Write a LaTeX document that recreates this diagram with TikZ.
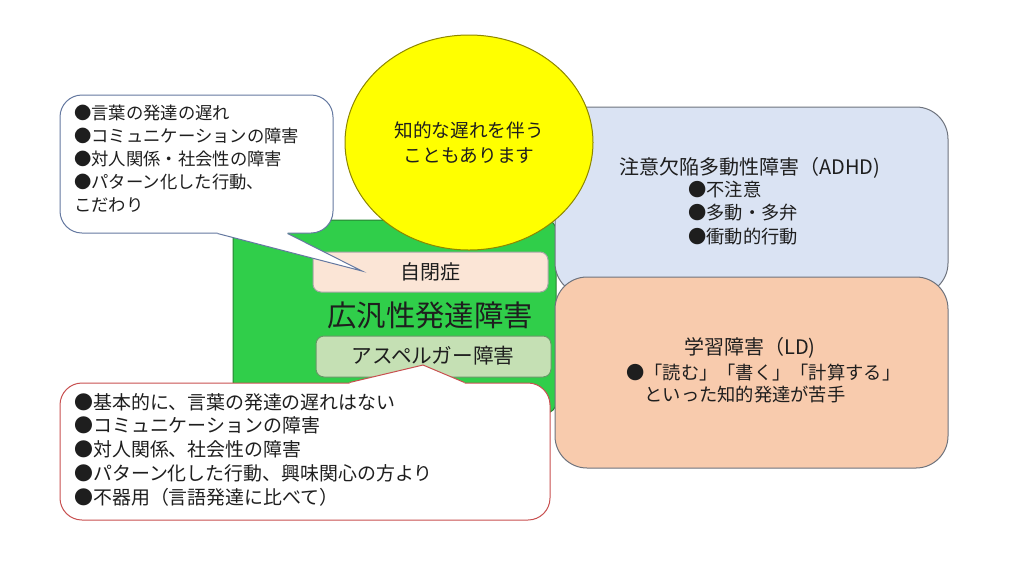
\documentclass[tikz,border=0pt]{standalone}
\usepackage{fontspec}
\setmainfont{Noto Sans CJK JP}
\usepackage{xcolor}
\usetikzlibrary{shapes.geometric, calc}
\definecolor{pddgreen}{RGB}{48,206,74}
\definecolor{pddedge}{RGB}{40,130,50}
\definecolor{adhdblue}{RGB}{218,227,243}
\definecolor{ldorange}{RGB}{248,203,173}
\definecolor{autpink}{RGB}{251,229,214}
\definecolor{aspgreen}{RGB}{197,224,180}
\definecolor{boxedge}{RGB}{110,115,125}
\definecolor{calloutblue}{RGB}{100,120,160}
\definecolor{calloutred}{RGB}{200,80,80}
\definecolor{txt}{RGB}{30,30,30}
\definecolor{iqyellow}{RGB}{255,255,0}
\tikzstyle{bigbox} = [draw=boxedge, line width=0.75pt, rounded corners=24pt, inner sep=0pt]
\tikzstyle{smallbox} = [line width=0.75pt, rounded corners=6pt, inner sep=0pt]
\tikzstyle{callout} = [fill=white, line width=0.75pt, rounded corners=16.5pt, inner sep=0pt]
\tikzstyle{label} = [text=txt, inner sep=0pt]

\begin{document}
\begin{tikzpicture}[x=0.75pt, y=-0.75pt]
    \useasboundingbox (0,0) rectangle (1024,576);

    % main boxes
    \node (pdd) [draw=pddedge, fill=pddgreen, line width=0.75pt, rounded corners=7.5pt, inner sep=0pt,
        minimum width=242.25pt, minimum height=144.75pt] at (394.5,316.5) {};
    \node (adhd) [bigbox, fill=adhdblue, minimum width=294.75pt, minimum height=141pt] at (751.5,201) {};
    \node (ld) [bigbox, fill=ldorange, minimum width=294.75pt, minimum height=143.25pt] at (751.5,372.5) {};
    \node (iq) [ellipse, draw=olive, fill=iqyellow, line width=0.75pt, inner sep=0pt,
        minimum width=186pt, minimum height=161.25pt] at (469,142.5) {};
    \node (aut) [smallbox, draw=gray!70, fill=autpink, minimum width=176.25pt, minimum height=30pt] at (430.5,272) {};
    \node (asp) [smallbox, draw=gray!80!green, fill=aspgreen, minimum width=176.25pt, minimum height=30.75pt] at (433.5,356.5) {};

    % texts
    \node (iqt) [label, align=center, font=\fontsize{14}{18.75}\selectfont] at (iq) {知的な遅れを伴う\\こともあります};
    \node (adhdt) [label, font=\fontsize{15}{17.6}\selectfont] at (750,168) {注意欠陥多動性障害（ADHD)};
    \node (adhdb) [label, anchor=west, align=left, font=\fontsize{13.7}{17.6}\selectfont] at (688,213)
        {●不注意\\●多動・多弁\\●衝動的行動};
    \node (ldt) [label, font=\fontsize{15}{17.6}\selectfont] at (750,348) {学習障害（LD)};
    \node (ldb) [label, anchor=west, align=left, font=\fontsize{13.7}{16.5}\selectfont] at (626,384)
        {●「読む」「書く」「計算する」\\\hspace*{1em}といった知的発達が苦手};
    \node (autt) [label, font=\fontsize{15}{18}\selectfont] at (aut) {自閉症};
    \node (pddt) [label, font=\fontsize{22}{26}\selectfont] at (430,315) {広汎性発達障害};
    \node (aspt) [label, font=\fontsize{15.5}{18}\selectfont] at (433,356) {アスペルガー障害};

    % callout for autism
    \node (cl1) [callout, draw=calloutblue, minimum width=204.75pt, minimum height=103.5pt] at (196.5,164) {};
    \coordinate (tip1) at (362,271);
    \fill [white] ($(cl1.south west)+(158,-4)$) -- ($(cl1.south west)+(158,0)$) -- (tip1)
        -- ($(cl1.south west)+(228,0)$) -- ($(cl1.south west)+(228,-4)$) -- cycle;
    \draw [calloutblue, line width=0.75pt] ($(cl1.south west)+(158,0)$) -- (tip1) -- ($(cl1.south west)+(228,0)$);
    \node (cl1t) [label, anchor=west, align=left, font=\fontsize{13}{17.25}\selectfont] at (74,159)
        {●言葉の発達の遅れ\\●コミュニケーションの障害\\●対人関係・社会性の障害\\●パターン化した行動、\\こだわり};

    % callout for asperger
    \node (cl2) [callout, draw=calloutred, minimum width=367.5pt, minimum height=102.75pt] at (305,451.5) {};
    \coordinate (tip2) at (423,365);
    \fill [white] ($(cl2.north west)+(290,4)$) -- ($(cl2.north west)+(290,0)$) -- (tip2)
        -- ($(cl2.north west)+(405,0)$) -- ($(cl2.north west)+(405,4)$) -- cycle;
    \draw [calloutred, line width=0.75pt] ($(cl2.north west)+(290,0)$) -- (tip2) -- ($(cl2.north west)+(405,0)$);
    \node (cl2t) [label, anchor=west, align=left, font=\fontsize{14.2}{17.8}\selectfont] at (74,449.5)
        {●基本的に、言葉の発達の遅れはない\\●コミュニケーションの障害\\●対人関係、社会性の障害\\●パターン化した行動、興味関心の方より\\●不器用（言語発達に比べて）};
\end{tikzpicture}
\end{document}
